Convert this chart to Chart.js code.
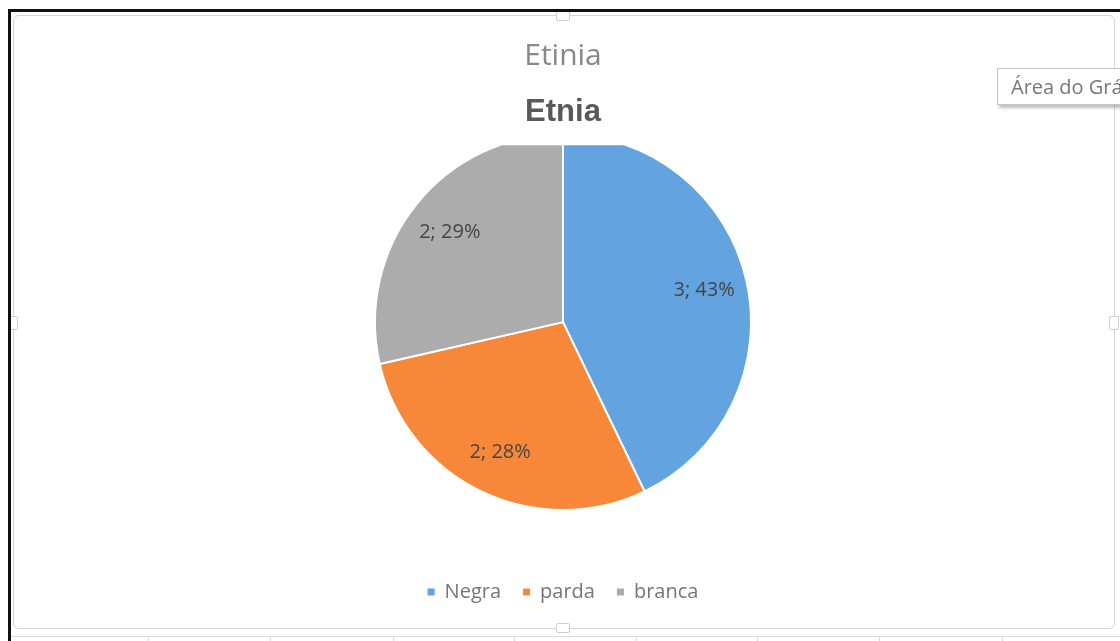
<!DOCTYPE html>
<html>
<head>
<meta charset="utf-8">
<script src="https://cdn.jsdelivr.net/npm/chart.js@4.4.1/dist/chart.umd.min.js"></script>
<style>
  html, body { margin: 0; padding: 0; background: #fff; width: 1120px; height: 641px; overflow: hidden; }
  .sheet-frame { position: absolute; left: 8px; top: 9px; width: 1200px; height: 700px; border-left: 3px solid #111; border-top: 3px solid #111; }
  .chart-box { position: absolute; left: 13px; top: 15px; width: 1100px; height: 612px; border: 1px solid #d6d6d6; border-radius: 6px; background: #fff; }
  #wrap { position: absolute; left: 14px; top: 16px; width: 1098px; height: 611px; }
  .handle { position: absolute; width: 12px; height: 8px; background: #fff; border: 1px solid #cfcfcf; border-radius: 2px; }
  .cells { position: absolute; left: 11px; top: 636px; width: 1120px; height: 10px; border-top: 1px solid #d9d9d9; }
  .cell-line { position: absolute; top: 637px; width: 1px; height: 10px; background: #d9d9d9; }
  .hint { position: absolute; left: 997px; top: 68px; width: 200px; height: 35px; border: 1px solid #c6c6c6; background: #fff;
          box-shadow: 2px 3px 3px rgba(0,0,0,0.25); font: 20px "Open Sans", sans-serif; color: #777; line-height: 35px; padding-left: 13px; white-space: nowrap; }
</style>
</head>
<body>
<div class="chart-box"></div>
<div id="wrap"><canvas id="etniaChart"></canvas></div>
<div class="cells"></div>
<div class="cell-line" style="left:148px"></div>
<div class="cell-line" style="left:270px"></div>
<div class="cell-line" style="left:393px"></div>
<div class="cell-line" style="left:514px"></div>
<div class="cell-line" style="left:636px"></div>
<div class="cell-line" style="left:757px"></div>
<div class="cell-line" style="left:879px"></div>
<div class="cell-line" style="left:1002px"></div>
<div class="handle" style="left:556px; top:11px"></div>
<div class="handle" style="left:556px; top:623px"></div>
<div class="handle" style="left:8px; top:316px; width:8px; height:12px"></div>
<div class="handle" style="left:1109px; top:316px; width:8px; height:12px"></div>
<div class="hint">Área do Gráfico</div>
<div class="sheet-frame"></div>
<script>
const categories = ["Negra", "parda", "branca"];
const counts = [3, 2, 2];
const shares = [43, 28, 29];
const colors = ["#62a3e0", "#f7883a", "#acacac"];

// data labels drawn inside each slice: "valor; percentual"
const sliceLabels = {
    id: "sliceLabels",
    afterDatasetsDraw(chart) {
        const ctx = chart.ctx;
        const meta = chart.getDatasetMeta(0);
        ctx.save();
        ctx.font = '20px "Open Sans", sans-serif';
        ctx.fillStyle = "#454545";
        ctx.textAlign = "center";
        ctx.textBaseline = "middle";
        meta.data.forEach((arc, i) => {
            const p = arc.getProps(["x", "y", "startAngle", "endAngle", "outerRadius"], true);
            const mid = (p.startAngle + p.endAngle) / 2;
            const r = p.outerRadius * 0.77;
            ctx.fillText(counts[i] + "; " + shares[i] + "%", p.x + Math.cos(mid) * r, p.y + Math.sin(mid) * r);
        });
        ctx.restore();
    }
};

const ctx = document.getElementById("etniaChart").getContext("2d");
new Chart(ctx, {
    type: "pie",
    data: {
        labels: categories,
        datasets: [{
            data: counts,
            backgroundColor: colors,
            borderColor: "#ffffff",
            borderWidth: 2,
            radius: 188,
            clip: { top: 0, left: false, right: false, bottom: false },
        }],
    },
    options: {
        responsive: true,
        maintainAspectRatio: false,
        animation: false,
        layout: { padding: { top: 0, bottom: 15, left: 0, right: 0 } },
        plugins: {
            tooltip: { enabled: false },
            title: {
                display: true,
                text: "Etinia",
                color: "#888888",
                font: { family: "Open Sans", size: 30, weight: "normal" },
                padding: { top: 22, bottom: 20 },
            },
            subtitle: {
                display: true,
                text: "Etnia",
                color: "#595959",
                font: { family: "Liberation Sans", size: 31, weight: "bold" },
                padding: { top: 0, bottom: 14 },
            },
            legend: {
                position: "bottom",
                title: { display: true, text: " ", color: "rgba(0,0,0,0)", font: { size: 10, lineHeight: 1 }, padding: { top: 51, bottom: 0 } },
                labels: {
                    boxWidth: 7,
                    boxHeight: 7,
                    padding: 22,
                    color: "#767676",
                    font: { family: "Open Sans", size: 20 },
                    generateLabels: () => categories.map((c, i) => ({
                        text: c,
                        fillStyle: colors[i],
                        strokeStyle: colors[i],
                        lineWidth: 0,
                        fontColor: "#767676",
                        hidden: false,
                        index: i,
                    })),
                },
            },
        },
    },
    plugins: [sliceLabels],
});
</script>
</body>
</html>
